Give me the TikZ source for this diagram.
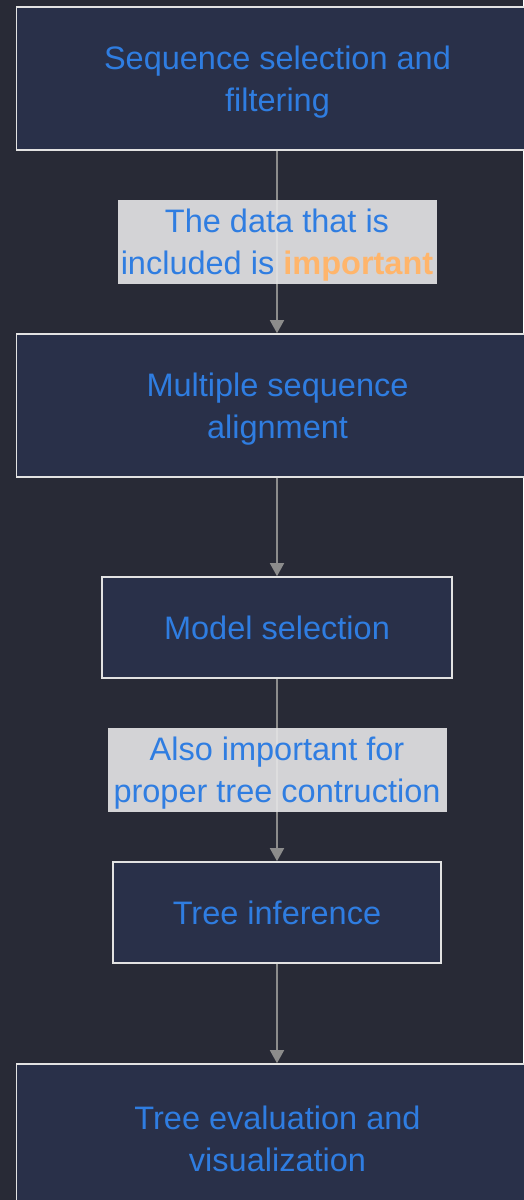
\documentclass[tikz,border=0pt]{standalone}
\usepackage{fontspec}
\setmainfont{Liberation Sans}
\usetikzlibrary{arrows.meta}
\definecolor{pagebg}{HTML}{282A36}
\definecolor{boxfill}{HTML}{293049}
\definecolor{boxline}{HTML}{E2E2E2}
\definecolor{stepblue}{HTML}{2F7DE1}
\definecolor{linkgray}{HTML}{8C8C8C}
\definecolor{notefill}{HTML}{E6E6E8}
\definecolor{accent}{HTML}{FFB56B}
% a tall strut on the first line sets two-line text a little lower in its box
\newcommand\firstline{\rule{0pt}{30pt}}
\tikzset{
  stepbox/.style={draw=boxline, line width=1.6pt, fill=boxfill, text=stepblue,
    align=center, inner sep=0pt, font=\fontsize{32.5}{42}\selectfont},
  link/.style={draw=linkgray, line width=1.6pt, -{Triangle[width=14pt,length=13pt]}},
  note/.style={fill=notefill, fill opacity=0.9, text opacity=1, text=stepblue,
    align=center, inner sep=0pt, font=\fontsize{32.5}{42}\selectfont}
}
\begin{document}
\begin{tikzpicture}[x=1pt,y=-1pt]
  \fill[pagebg] (0,0) rectangle (523,1200);
  \useasboundingbox (0,0) rectangle (523,1200);

  \node[stepbox, minimum width=522pt, minimum height=143pt] (s1) at (277.5,78.5)
    {\firstline Sequence selection and\\filtering};
  \node[stepbox, minimum width=522pt, minimum height=143pt] (s2) at (277.5,405.5)
    {\firstline Multiple sequence\\alignment};
  \node[stepbox, minimum width=350pt, minimum height=101pt] (s3) at (277,627.5)
    {Model selection};
  \node[stepbox, minimum width=328pt, minimum height=101pt] (s4) at (277,912.5)
    {Tree inference};
  \node[stepbox, minimum width=522pt, minimum height=143pt] (s5) at (277.5,1135.5)
    {\firstline Tree evaluation and\\visualization};

  \draw[link] (s1.south -| s3) -- node[note, minimum width=319pt, minimum height=84pt] (n1)
    {\firstline The data that is\\included is \textcolor{accent}{\textbf{important}}} (s2.north -| s3);
  \draw[link] (s2.south -| s3) -- (s3);
  \draw[link] (s3) -- node[note, minimum width=339pt, minimum height=84pt] (n2)
    {\firstline Also important for\\proper tree contruction} (s4);
  \draw[link] (s4) -- (s5.north -| s4);
\end{tikzpicture}
\end{document}
